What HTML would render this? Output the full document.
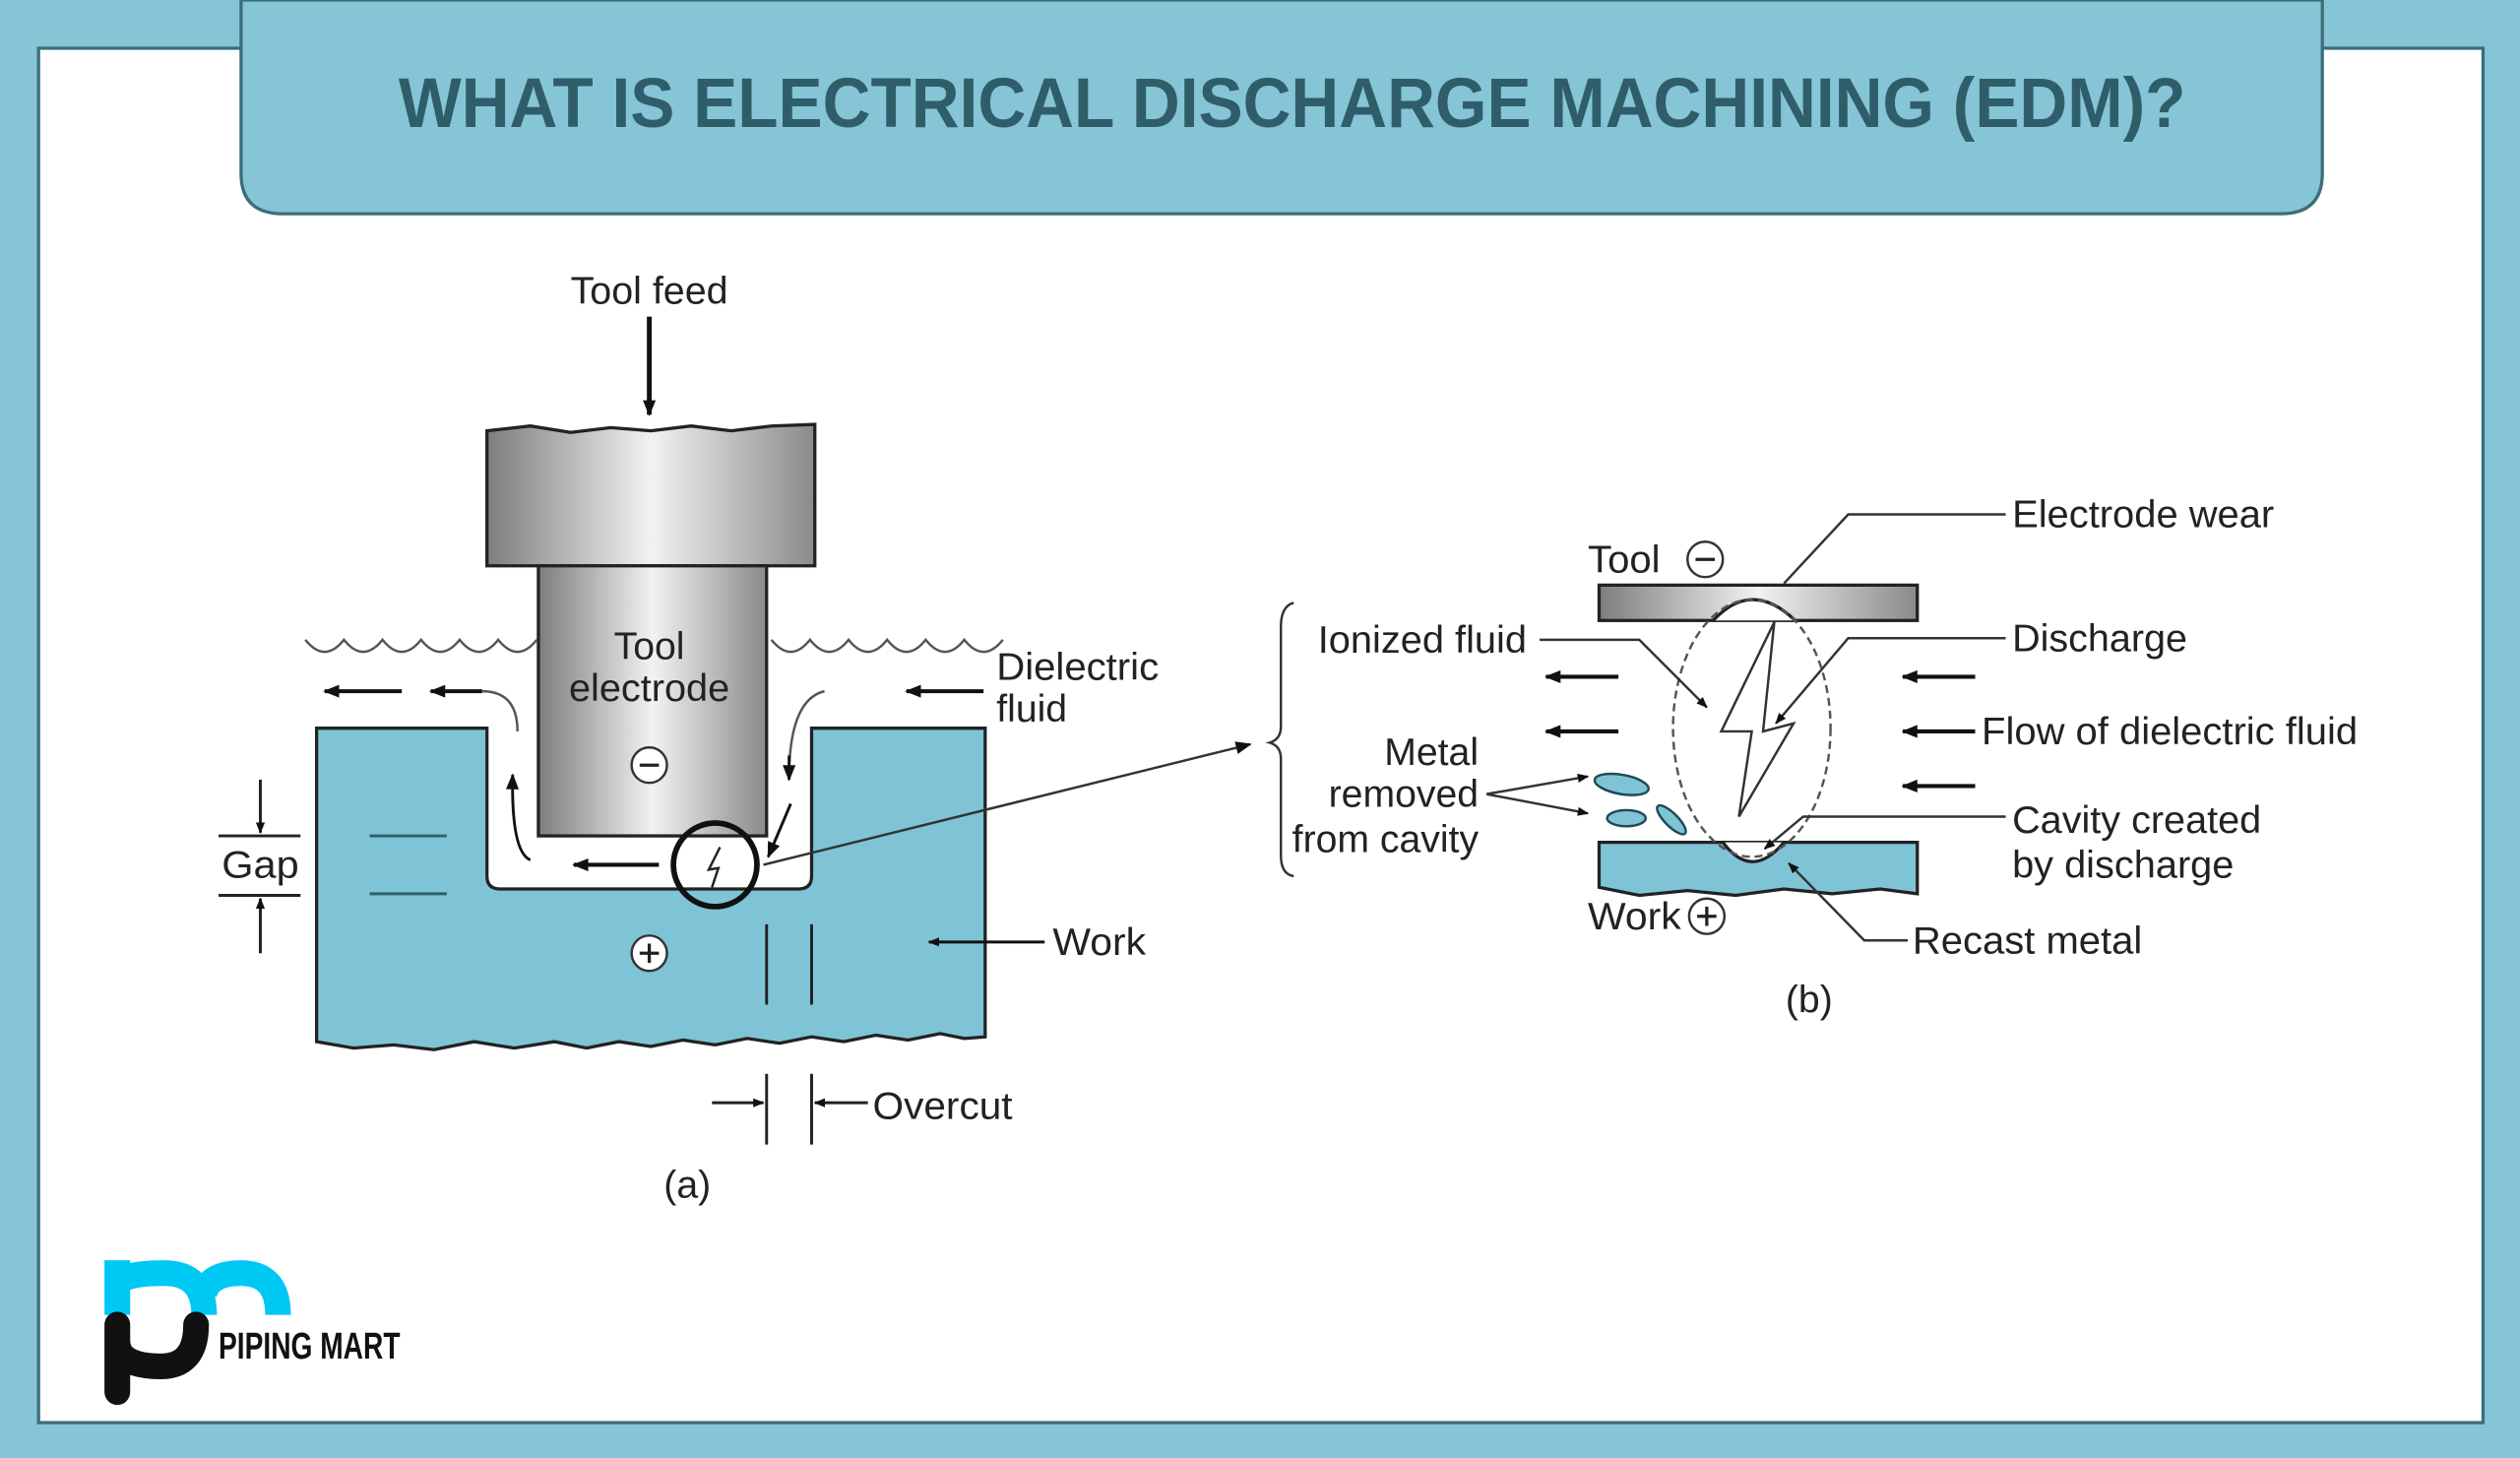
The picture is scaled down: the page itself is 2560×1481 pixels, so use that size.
<!DOCTYPE html>
<html><head><meta charset="utf-8"><style>
html,body{margin:0;padding:0;background:#85c5d6;}
svg{display:block;}
text{font-family:"Liberation Sans",sans-serif;fill:#222;}
</style></head><body>
<svg width="2560" height="1481" viewBox="0 0 1568 907" preserveAspectRatio="none" xmlns="http://www.w3.org/2000/svg">
<defs>
<linearGradient id="g" x1="0" x2="1" y1="0" y2="0">
<stop offset="0" stop-color="#7d7d7d"/><stop offset="0.5" stop-color="#f2f2f2"/><stop offset="1" stop-color="#8a8a8a"/>
</linearGradient>
<marker id="ah" viewBox="0 0 10 10" refX="9" refY="5" markerWidth="7" markerHeight="7" orient="auto-start-reverse" markerUnits="userSpaceOnUse"><path d="M0,1 L10,5 L0,9 z" fill="#111"/></marker>
<marker id="as" viewBox="0 0 10 10" refX="9" refY="5" markerWidth="12" markerHeight="10" orient="auto" markerUnits="userSpaceOnUse"><path d="M0,1 L10,5 L0,9 z" fill="#111"/></marker>
</defs>
<rect x="0" y="0" width="1568" height="907" fill="#85c5d6"/>
<rect x="24" y="30" width="1521" height="855" fill="#fff" stroke="#3c6e79" stroke-width="2"/>
<path d="M150,0 V108 Q150,133 176,133 H1419 Q1445,133 1445,108 V0 Z" fill="#85c5d6" stroke="#3c6e79" stroke-width="2"/>
<text x="248" y="79" font-size="44" font-weight="bold" textLength="1112" lengthAdjust="spacingAndGlyphs" style="fill:#2f5e6a">WHAT IS ELECTRICAL DISCHARGE MACHINING (EDM)?</text>

<g font-size="24">
<!-- Panel a -->
<text x="355" y="189" textLength="98" lengthAdjust="spacingAndGlyphs">Tool feed</text>
<line x1="404" y1="197" x2="404" y2="258" stroke="#111" stroke-width="3" marker-end="url(#as)"/>
<path d="M303,268 L330,265 L355,269 L380,266 L405,268 L430,265 L455,268 L480,265 L507,264 V352 H303 Z" fill="url(#g)" stroke="#222" stroke-width="2"/>
<rect x="335" y="352" width="142" height="168" fill="url(#g)" stroke="#222" stroke-width="2"/>
<path d="M197,453 H303 V545 Q303,553 311,553 H497 Q505,553 505,545 V453 H613 V645 L600,646 L585,643 L565,647 L545,644 L525,648 L505,645 L485,649 L465,646 L445,650 L425,647 L405,651 L385,648 L365,652 L345,648 L320,652 L295,648 L270,653 L245,650 L220,652 L197,648 Z" fill="#7fc4d6" stroke="#222" stroke-width="2"/>
<path d="M190,398 q12,15 24,0 q12,15 24,0 q12,15 24,0 q12,15 24,0 q12,15 24,0 q12,15 24,0 M480,398 q12,15 24,0 q12,15 24,0 q12,15 24,0 q12,15 24,0 q12,15 24,0 q12,15 24,0" fill="none" stroke="#555" stroke-width="1.5"/>
<text x="404" y="410" text-anchor="middle">Tool</text>
<text x="404" y="436" text-anchor="middle" textLength="100" lengthAdjust="spacingAndGlyphs">electrode</text>
<circle cx="404" cy="476" r="11" fill="#fff" stroke="#333" stroke-width="1.5"/><line x1="398" y1="476" x2="410" y2="476" stroke="#222" stroke-width="2"/>
<circle cx="404" cy="593" r="11" fill="#fff" stroke="#333" stroke-width="1.5"/><line x1="398" y1="593" x2="410" y2="593" stroke="#222" stroke-width="2"/><line x1="404" y1="587" x2="404" y2="599" stroke="#222" stroke-width="2"/>
<text x="620" y="423" textLength="101" lengthAdjust="spacingAndGlyphs">Dielectric</text>
<text x="620" y="449">fluid</text>
<g stroke="#111" stroke-width="2.5" fill="none">
<line x1="250" y1="430" x2="202" y2="430" marker-end="url(#as)"/>
<line x1="300" y1="430" x2="268" y2="430" marker-end="url(#as)"/>
<line x1="612" y1="430" x2="564" y2="430" marker-end="url(#as)"/>
<line x1="410" y1="538" x2="357" y2="538" marker-end="url(#as)"/>
<path d="M330,535 Q318,530 319,482" marker-end="url(#as)" stroke-width="1.8"/>
<path d="M300,430 Q322,430 322,455" stroke-width="1.5" stroke="#555"/>
<path d="M513,430 Q492,435 491,480" stroke-width="1.5" stroke="#555"/>
<line x1="491" y1="470" x2="491" y2="485" marker-end="url(#as)" stroke-width="1.8"/>
<line x1="492" y1="500" x2="478" y2="533" marker-end="url(#as)" stroke-width="1.8"/>
<line x1="650" y1="586" x2="578" y2="586" marker-end="url(#ah)" stroke-width="1.8"/>
</g>
<circle cx="445" cy="538" r="26" fill="none" stroke="#111" stroke-width="3.5"/>
<path d="M448,527 L441,541 L447,540 L443,552" fill="none" stroke="#222" stroke-width="1.5"/>
<line x1="475" y1="538" x2="778" y2="463" stroke="#333" stroke-width="1.5" marker-end="url(#as)"/>
<g stroke="#222" stroke-width="1.8">
<line x1="136" y1="520" x2="187" y2="520"/><line x1="136" y1="557" x2="187" y2="557"/>
<line x1="162" y1="485" x2="162" y2="518" marker-end="url(#ah)"/>
<line x1="162" y1="593" x2="162" y2="559" marker-end="url(#ah)"/>
<line x1="230" y1="520" x2="278" y2="520" stroke="#2f5e6a"/><line x1="230" y1="556" x2="278" y2="556" stroke="#2f5e6a"/>
<line x1="477" y1="575" x2="477" y2="625"/><line x1="505" y1="575" x2="505" y2="625"/>
<line x1="477" y1="668" x2="477" y2="712"/><line x1="505" y1="668" x2="505" y2="712"/>
<line x1="443" y1="686" x2="475" y2="686" marker-end="url(#ah)"/>
<line x1="540" y1="686" x2="507" y2="686" marker-end="url(#ah)"/>
</g>
<text x="138" y="546" textLength="48" lengthAdjust="spacingAndGlyphs">Gap</text>
<text x="655" y="594" textLength="58" lengthAdjust="spacingAndGlyphs">Work</text>
<text x="543" y="696" textLength="87" lengthAdjust="spacingAndGlyphs">Overcut</text>
<text x="413" y="745">(a)</text>

<!-- brace -->
<path d="M805,375 Q797,377 797,390 V452 Q797,460 790,462 Q797,464 797,472 V532 Q797,544 805,545" fill="none" stroke="#333" stroke-width="1.5"/>

<!-- Panel b -->
<rect x="995" y="364" width="198" height="22" fill="url(#g)" stroke="#222" stroke-width="2"/>
<path d="M995,524 H1193 V556 L1170,553 L1140,556 L1110,553 L1080,557 L1050,554 L1020,557 L995,552 Z" fill="#7fc4d6" stroke="#222" stroke-width="2"/>
<path d="M1066,386 Q1090,360 1117,386" fill="#fff" stroke="#222" stroke-width="2"/>
<path d="M1072,524 Q1090,548 1110,524" fill="#fff" stroke="#222" stroke-width="2"/>
<ellipse cx="1090" cy="453" rx="49" ry="80" fill="none" stroke="#555" stroke-width="1.5" stroke-dasharray="5,3"/>
<path d="M1104,387 L1071,455 L1090,455 L1082,508 L1116,450 L1097,455 Z" fill="#fff" stroke="#333" stroke-width="1.5"/>
<g fill="#7fc4d6" stroke="#1f4a55" stroke-width="1.5">
<ellipse cx="1009" cy="488" rx="17" ry="6" transform="rotate(10 1009 488)"/>
<ellipse cx="1012" cy="509" rx="12" ry="5"/>
<ellipse cx="1040" cy="510" rx="12" ry="4" transform="rotate(45 1040 510)"/>
</g>
<text x="988" y="356" textLength="45" lengthAdjust="spacingAndGlyphs">Tool</text>
<circle cx="1061" cy="348" r="11" fill="#fff" stroke="#333" stroke-width="1.5"/><line x1="1055" y1="348" x2="1067" y2="348" stroke="#222" stroke-width="2"/>
<text x="988" y="578" textLength="58" lengthAdjust="spacingAndGlyphs">Work</text>
<circle cx="1062" cy="570" r="11" fill="#fff" stroke="#333" stroke-width="1.5"/><line x1="1056" y1="570" x2="1068" y2="570" stroke="#222" stroke-width="2"/><line x1="1062" y1="564" x2="1062" y2="576" stroke="#222" stroke-width="2"/>
<g stroke="#333" stroke-width="1.5" fill="none">
<path d="M1248,320 H1150 L1110,363"/>
<path d="M958,398 H1020 L1062,440" marker-end="url(#ah)"/>
<path d="M1248,397 H1150 L1105,450" marker-end="url(#ah)"/>
<path d="M1248,508 H1122 L1098,528" marker-end="url(#ah)"/>
<path d="M1187,585 H1160 L1113,537" marker-end="url(#ah)"/>
<line x1="925" y1="494" x2="988" y2="483" marker-end="url(#ah)"/>
<line x1="925" y1="494" x2="988" y2="506" marker-end="url(#ah)"/>
</g>
<g stroke="#111" stroke-width="2.5">
<line x1="1007" y1="421" x2="962" y2="421" marker-end="url(#as)"/>
<line x1="1007" y1="455" x2="962" y2="455" marker-end="url(#as)"/>
<line x1="1229" y1="421" x2="1184" y2="421" marker-end="url(#as)"/>
<line x1="1229" y1="455" x2="1184" y2="455" marker-end="url(#as)"/>
<line x1="1229" y1="489" x2="1184" y2="489" marker-end="url(#as)"/>
</g>
<text x="1252" y="328" textLength="163" lengthAdjust="spacingAndGlyphs">Electrode wear</text>
<text x="820" y="406" textLength="130" lengthAdjust="spacingAndGlyphs">Ionized fluid</text>
<text x="1252" y="405" textLength="109" lengthAdjust="spacingAndGlyphs">Discharge</text>
<text x="1233" y="463" textLength="234" lengthAdjust="spacingAndGlyphs">Flow of dielectric fluid</text>
<text x="920" y="476" text-anchor="end">Metal</text>
<text x="920" y="502" text-anchor="end">removed</text>
<text x="920" y="530" text-anchor="end">from cavity</text>
<text x="1252" y="518" textLength="155" lengthAdjust="spacingAndGlyphs">Cavity created</text>
<text x="1252" y="546" textLength="138" lengthAdjust="spacingAndGlyphs">by discharge</text>
<text x="1190" y="593" textLength="143" lengthAdjust="spacingAndGlyphs">Recast metal</text>
<text x="1111" y="630">(b)</text>
</g>

<!-- Logo -->
<g fill="none" stroke-width="16">
<path d="M73,818 V784 M73,801 Q73,792 102,792 Q127,792 127,818 M127,805 Q130,792 150,792 Q173,792 173,818" stroke="#00c8f5"/>
<path d="M73,824 V866 M73,824 V834 Q73,850 100,850 Q122,850 122,824" stroke="#111" stroke-linecap="round"/>
</g>
<text x="136" y="845" font-size="23" font-weight="bold" textLength="113" lengthAdjust="spacingAndGlyphs" style="fill:#111">PIPING MART</text>
</svg>
</body></html>
